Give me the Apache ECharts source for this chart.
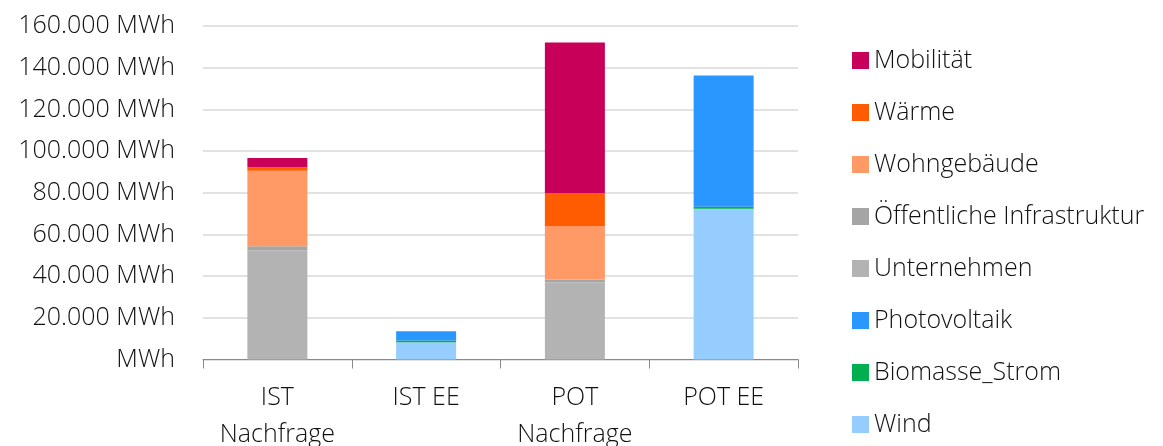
<!DOCTYPE html>
<html>
<head>
<meta charset="utf-8">
<script src="https://cdn.jsdelivr.net/npm/echarts@6/dist/echarts.min.js"></script>
<style>
  html, body { margin: 0; padding: 0; background: #fff; }
  #container { width: 1163px; height: 446px; }
</style>
</head>
<body>
<div id="container"></div>
<script type="text/javascript">
    // Kategorien (X-Achse)
    var categories = ['IST\nNachfrage', 'IST EE', 'POT\nNachfrage', 'POT EE'];

    // Werte je Serie in MWh, Reihenfolge wie categories
    var unternehmen   = [52300, null, 37000, null];
    var oeffentliche  = [2000, null, 1400, null];
    var wohngebaeude  = [36300, null, 25600, null];
    var waerme        = [1600, null, 15800, null];
    var mobilitaet    = [4500, null, 72300, null];
    var wind          = [null, 8300, null, 72300];
    var biomasse      = [null, 800, null, 1000];
    var photovoltaik  = [null, 4400, null, 63000];

    // Legende von oben nach unten
    var legendOrder = ['Mobilität', 'Wärme', 'Wohngebäude', 'Öffentliche Infrastruktur',
                       'Unternehmen', 'Photovoltaik', 'Biomasse_Strom', 'Wind'];

    var fontName = 'Open Sans';
    var textColor = '#111';

    function fmt(v) {
        if (v === 0) return 'MWh';
        var s = String(v);
        return s.replace(/\B(?=(\d{3})+(?!\d))/g, '.') + ' MWh';
    }

    function bar(name, data, color) {
        return {
            name: name,
            type: 'bar',
            stack: 'gesamt',
            barWidth: 60,
            data: data,
            itemStyle: { color: color },
            emphasis: { disabled: true }
        };
    }

    var dom = document.getElementById("container");
    var myChart = echarts.init(dom);

    var option = {
        animation: false,
        textStyle: { fontFamily: fontName },
        grid: {
            left: 203,
            right: 365,
            top: 26,
            bottom: 86.5,
            outerBoundsMode: 'none'
        },
        legend: {
            orient: 'vertical',
            left: 852,
            top: 48,
            padding: 0,
            data: legendOrder,
            icon: 'rect',
            itemWidth: 17,
            itemHeight: 17,
            itemGap: 27,
            textStyle: {
                fontFamily: fontName,
                fontSize: 25,
                fontWeight: 300,
                color: textColor,
                lineHeight: 25
            },
            selectedMode: false
        },
        xAxis: {
            type: 'category',
            data: categories,
            axisLine: { lineStyle: { color: '#898989', width: 1 } },
            axisTick: { show: true, length: 9, lineStyle: { color: '#898989' } },
            axisLabel: {
                fontFamily: fontName,
                fontSize: 25,
                fontWeight: 300,
                color: textColor,
                lineHeight: 37,
                margin: 20,
                interval: 0
            }
        },
        yAxis: {
            type: 'value',
            min: 0,
            max: 160000,
            interval: 20000,
            axisLine: { show: false },
            axisTick: { show: false },
            splitLine: { lineStyle: { color: '#d9d9d9', width: 1.5 } },
            axisLabel: {
                fontFamily: fontName,
                fontSize: 25,
                fontWeight: 300,
                color: textColor,
                margin: 28,
                formatter: fmt
            }
        },
        series: [
            bar('Unternehmen', unternehmen, '#B3B3B3'),
            bar('Öffentliche Infrastruktur', oeffentliche, '#A5A5A5'),
            bar('Wohngebäude', wohngebaeude, '#FF9A66'),
            bar('Wärme', waerme, '#FF5B00'),
            bar('Mobilität', mobilitaet, '#C8005A'),
            bar('Wind', wind, '#95CDFE'),
            bar('Biomasse_Strom', biomasse, '#00B050'),
            bar('Photovoltaik', photovoltaik, '#2997FF')
        ]
    };

    myChart.setOption(option);
</script>
</body>
</html>
